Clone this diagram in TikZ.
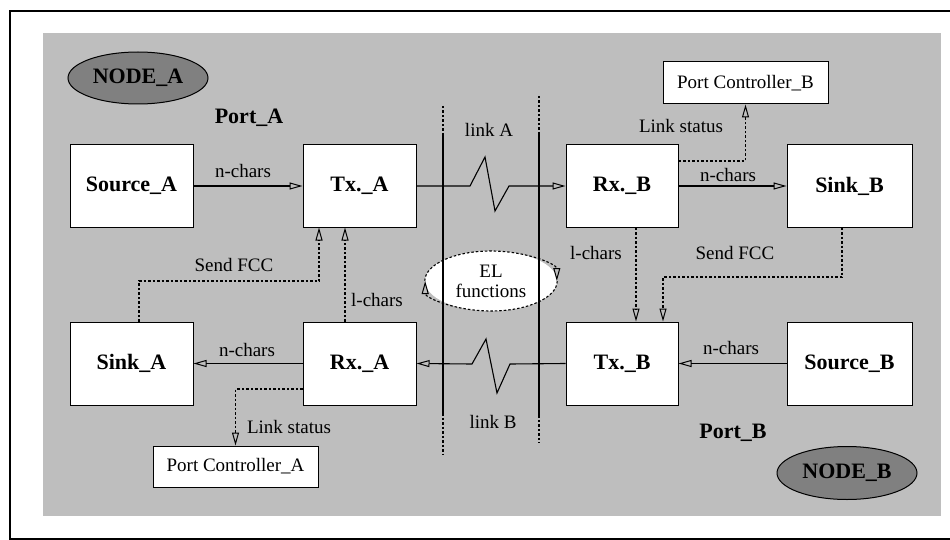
\documentclass[tikz,border=0pt]{standalone}
\usepackage{fontspec}
\setmainfont{Liberation Serif}
\usetikzlibrary{arrows.meta,shapes.geometric}
\definecolor{bggray}{RGB}{190,190,190}
\definecolor{nodegray}{RGB}{128,128,128}
\begin{document}
\begin{tikzpicture}[x=1pt,y=-1pt,
  box/.style={draw, fill=white, line width=1pt, inner sep=0pt, font=\fontsize{22}{24}\selectfont\bfseries},
  pcbox/.style={draw, fill=white, line width=1pt, inner sep=0pt, font=\fontsize{19}{21}\selectfont},
  lbl/.style={font=\fontsize{19}{21}\selectfont, inner sep=0pt},
  blbl/.style={font=\fontsize{22}{24}\selectfont\bfseries, inner sep=0pt},
  opentip/.style={-{Triangle[open,length=13pt,width=7pt,line width=1pt]}},
  conn/.style={line width=1.1pt, opentip},
  dconn/.style={line width=1.1pt, dash pattern=on 2.5pt off 2pt, opentip},
  dline/.style={line width=1.1pt, dash pattern=on 2.5pt off 2pt},
  nodeell/.style={ellipse, draw, fill=nodegray, line width=1pt, inner sep=0pt, font=\fontsize{22}{24}\selectfont\bfseries}
]
\useasboundingbox (0,0) rectangle (950,540);
% frame
\draw[line width=1.7pt] (960,11) -| (10,539) -- (960,539);
% gray background
\fill[bggray] (43,33) rectangle (941,516);

% node ellipses
\node[nodeell, minimum width=140pt, minimum height=52pt] (nodeA) at (138,78) {NODE\_A};
\node[nodeell, minimum width=140pt, minimum height=53pt] (nodeB) at (847,473) {NODE\_B};

% port labels
\node[blbl] (portA) at (249,118) {Port\_A};
\node[blbl] (portB) at (733,433) {Port\_B};

% EL functions ellipse
\node[ellipse, fill=white, minimum width=132pt, minimum height=60pt, inner sep=0pt, align=center,
      font=\fontsize{19}{20}\selectfont] (el) at (491,281) {EL\\functions};

% link lines (vertical)
\coordinate (la1) at (443,106);
\coordinate (la2) at (443,133);
\coordinate (la3) at (443,413);
\coordinate (la4) at (443,454);
\coordinate (lb1) at (539,96);
\coordinate (lb2) at (539,132);
\coordinate (lb3) at (539,415);
\coordinate (lb4) at (539,443);
\draw[dline] (la1) -- (la2);
\draw[line width=1.1pt] (la2) -- (la3);
\draw[dline] (la3) -- (la4);
\draw[dline] (lb1) -- (lb2);
\draw[line width=1.1pt] (lb2) -- (lb3);
\draw[dline] (lb3) -- (lb4);

% EL dashed outline with arrows
\draw[dconn] (el.west) arc[start angle=180, end angle=0, x radius=66pt, y radius=30pt];
\draw[dconn] (el.east) arc[start angle=0, end angle=-180, x radius=66pt, y radius=30pt];

% boxes
\node[box, minimum width=123pt, minimum height=82pt] (srcA) at (131.5,186) {Source\_A};
\node[box, minimum width=113pt, minimum height=82pt] (txA) at (359.5,186) {Tx.\_A};
\node[box, minimum width=112pt, minimum height=82pt] (rxB) at (622,186) {Rx.\_B};
\node[box, minimum width=125pt, minimum height=82pt] (sinkB) at (849.5,186) {Sink\_B};
\node[box, minimum width=123pt, minimum height=83pt] (sinkA) at (131.5,363.5) {Sink\_A};
\node[box, minimum width=113pt, minimum height=83pt] (rxA) at (359.5,363.5) {Rx.\_A};
\node[box, minimum width=112pt, minimum height=83pt] (txB) at (622,363.5) {Tx.\_B};
\node[box, minimum width=125pt, minimum height=83pt] (srcB) at (849.5,363.5) {Source\_B};
\node[pcbox, minimum width=165pt, minimum height=42pt] (pcB) at (745.5,83) {Port Controller\_B};
\node[pcbox, minimum width=165pt, minimum height=41pt] (pcA) at (235.5,466.5) {Port Controller\_A};

% n-chars connectors
\draw[conn] (srcA) -- (txA);
\draw[conn] (rxB) -- (sinkB);
\draw[conn] (rxA) -- (sinkA);
\draw[conn] (srcB) -- (txB);

% links with zigzag
\draw[conn] (txA.east) -- (470,186) -- (485,157) -- (495,211) -- (509,186) -- (rxB.west);
\draw[conn] (txB.west) -- (510,364) -- (497,393) -- (486,339) -- (472,364) -- (rxA.east);

% dotted connectors
\coordinate (fccA) at (319,281);
\draw[dconn] ([xshift=7.5pt]sinkA.north) |- (fccA) -- (fccA |- txA.south);
\draw[dconn] ([xshift=-14.5pt]rxA.north) -- ([xshift=-14.5pt]txA.south);
\draw[dconn] ([yshift=-25.5pt]rxA.west) -| (pcA.north);
\draw[dconn] ([yshift=25pt]rxB.east) -| (pcB.south);
\draw[dconn] ([xshift=14pt]rxB.south) -- ([xshift=14pt]txB.north);
\coordinate (fccB) at (663,277);
\draw[dconn] ([xshift=-7.5pt]sinkB.south) |- (fccB) -- (fccB |- txB.north);

% labels
\node[lbl] (l1) at (243,171) {n-chars};
\node[lbl] (l2) at (728,175) {n-chars};
\node[lbl] (l3) at (247,350) {n-chars};
\node[lbl] (l4) at (731,348) {n-chars};
\node[lbl] (l5) at (234,265) {Send FCC};
\node[lbl] (l6) at (735,253) {Send FCC};
\node[lbl] (l7) at (377,300) {l-chars};
\node[lbl] (l8) at (596,253) {l-chars};
\node[lbl] (l9) at (289,427) {Link status};
\node[lbl] (l10) at (681,126) {Link status};
\node[lbl] (l11) at (489,130) {link A};
\node[lbl] (l12) at (493,422) {link B};
\end{tikzpicture}
\end{document}
